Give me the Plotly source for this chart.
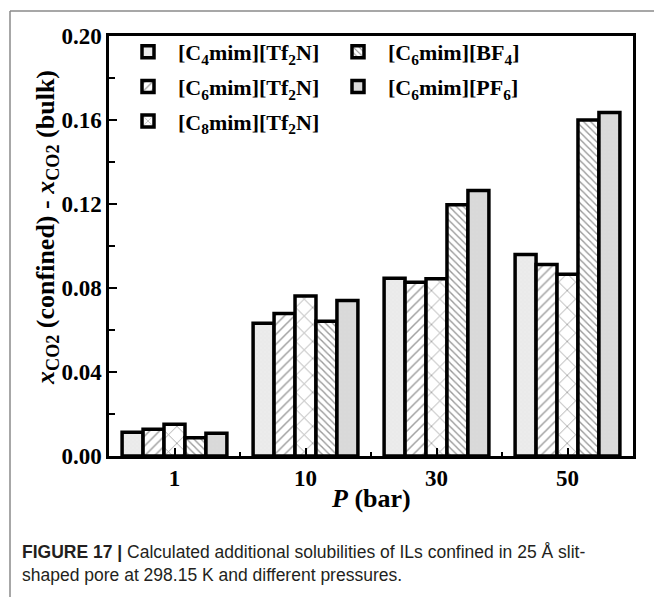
import plotly.graph_objects as go

# Pressure categories (bar)
pressures = ["1", "10", "30", "50"]

# Additional CO2 solubility, x_CO2(confined) - x_CO2(bulk)
c4mim_tf2n = [0.0113, 0.0632, 0.0847, 0.0960]
c6mim_tf2n = [0.0127, 0.0679, 0.0827, 0.0912]
c8mim_tf2n = [0.0151, 0.0762, 0.0844, 0.0866]
c6mim_bf4 = [0.0087, 0.0642, 0.1196, 0.1600]
c6mim_pf6 = [0.0108, 0.0741, 0.1264, 0.1636]

labels = [
    "[C<sub>4</sub>mim][Tf<sub>2</sub>N]",
    "[C<sub>6</sub>mim][Tf<sub>2</sub>N]",
    "[C<sub>8</sub>mim][Tf<sub>2</sub>N]",
    "[C<sub>6</sub>mim][BF<sub>4</sub>]",
    "[C<sub>6</sub>mim][PF<sub>6</sub>]",
]
series = [c4mim_tf2n, c6mim_tf2n, c8mim_tf2n, c6mim_bf4, c6mim_pf6]
legend_of = ["legend", "legend", "legend", "legend2", "legend2"]

patterns = [
    dict(shape="+", fgcolor="#dcdcdc", bgcolor="#ececec", size=4, solidity=0.15),
    dict(shape="/", fgcolor="#444444", bgcolor="white", size=7, solidity=0.22),
    dict(shape="x", fgcolor="#444444", bgcolor="white", size=12, solidity=0.14),
    dict(shape="\\", fgcolor="#333333", bgcolor="white", size=5, solidity=0.28),
    dict(shape="+", fgcolor="#d2d2d2", bgcolor="#dadada", size=4, solidity=0.15),
]
fills = ["#ececec", "white", "white", "white", "#dadada"]

SERIF = "Liberation Serif, Times New Roman, serif"

fig = go.Figure()
for lab, vals, lg, pat, fc in zip(labels, series, legend_of, patterns, fills):
    fig.add_trace(go.Bar(
        x=pressures, y=vals, name=lab, legend=lg, legendgroup=lab,
        marker=dict(color=fc, line=dict(color="black", width=3.5), pattern=pat),
    ))

# invisible helper trace carrying the boundary ticks axis
fig.add_trace(go.Scatter(x=pressures, y=[0] * len(pressures), xaxis="x2",
                         mode="markers", marker=dict(opacity=0),
                         showlegend=False, hoverinfo="skip"))

W, H = 654, 597
L, R, T, B = 109, 21, 36, 141
pw, ph = W - L - R, H - T - B


def px(x):
    return (x - L) / pw


def py(y):
    return (H - B - y) / ph


legend_font = dict(family=SERIF, size=22, weight="bold")

fig.update_layout(
    width=W, height=H,
    margin=dict(l=L, r=R, t=T, b=B),
    paper_bgcolor="white", plot_bgcolor="white",
    barmode="group", bargap=0.2, bargroupgap=0,
    font=dict(family=SERIF, color="black"),
    xaxis=dict(
        type="category", categoryorder="array", categoryarray=pressures,
        range=[-0.5, 3.5], ticks="inside", ticklen=8, tickwidth=2, tickcolor="black",
        showline=True, linewidth=2.5, linecolor="black", mirror=True,
        tickfont=dict(family=SERIF, size=23, weight="bold"),
        showgrid=False, zeroline=False,
    ),
    xaxis2=dict(
        type="category", categoryorder="array", categoryarray=pressures,
        range=[-0.5, 3.5], overlaying="x", anchor="y", side="bottom",
        tickson="boundaries", ticks="inside", ticklen=4, tickwidth=2, tickcolor="black",
        showticklabels=False, showline=False, showgrid=False, zeroline=False,
    ),
    yaxis=dict(
        range=[0, 0.2], dtick=0.04, tick0=0, tickformat=".2f",
        ticks="inside", ticklen=8, tickwidth=2, tickcolor="black",
        minor=dict(dtick=0.02, ticks="inside", ticklen=6, tickwidth=2, tickcolor="black"),
        showline=True, linewidth=2.5, linecolor="black", mirror=True,
        tickfont=dict(family=SERIF, size=23, weight="bold"),
        showgrid=False, zeroline=False,
    ),
    legend=dict(
        x=px(118), y=py(31), xanchor="left", yanchor="top", itemwidth=50,
        bgcolor="rgba(0,0,0,0)", tracegroupgap=3, font=legend_font,
    ),
    legend2=dict(
        x=px(328), y=py(31), xanchor="left", yanchor="top", itemwidth=50,
        bgcolor="rgba(0,0,0,0)", tracegroupgap=3, font=legend_font,
    ),
    annotations=[
        dict(text="<b><i>x</i><sub>CO2</sub> (confined) - <i>x</i><sub>CO2</sub> (bulk)</b>",
             xref="paper", yref="paper", x=px(47), y=py(228), textangle=-90,
             xanchor="center", yanchor="middle",
             showarrow=False, font=dict(family=SERIF, size=26, color="black")),
        dict(text="<b><i>P</i> (bar)</b>", xref="paper", yref="paper",
             x=0.5, y=py(498), xanchor="center", yanchor="middle", showarrow=False,
             font=dict(family=SERIF, size=26, color="black")),
        dict(text="<b>FIGURE 17 |</b> Calculated additional solubilities of ILs confined in 25 Å slit-"
                  "<br>shaped pore at 298.15 K and different pressures.",
             xref="paper", yref="paper", x=px(20), y=py(540), xanchor="left", yanchor="top",
             align="left", showarrow=False,
             font=dict(family="Liberation Sans Narrow, Arial Narrow, Liberation Sans, sans-serif",
                       size=17.5, color="#231f20")),
    ],
    shapes=[
        # outer figure frame (top and left edges)
        dict(type="line", xref="paper", yref="paper", x0=px(10), x1=px(W), y0=py(11), y1=py(11),
             line=dict(color="#8a8a8a", width=1.5)),
        dict(type="line", xref="paper", yref="paper", x0=px(10), x1=px(10), y0=py(11), y1=py(H),
             line=dict(color="#8a8a8a", width=1.5)),
    ],
)

fig.write_html("out.html")
